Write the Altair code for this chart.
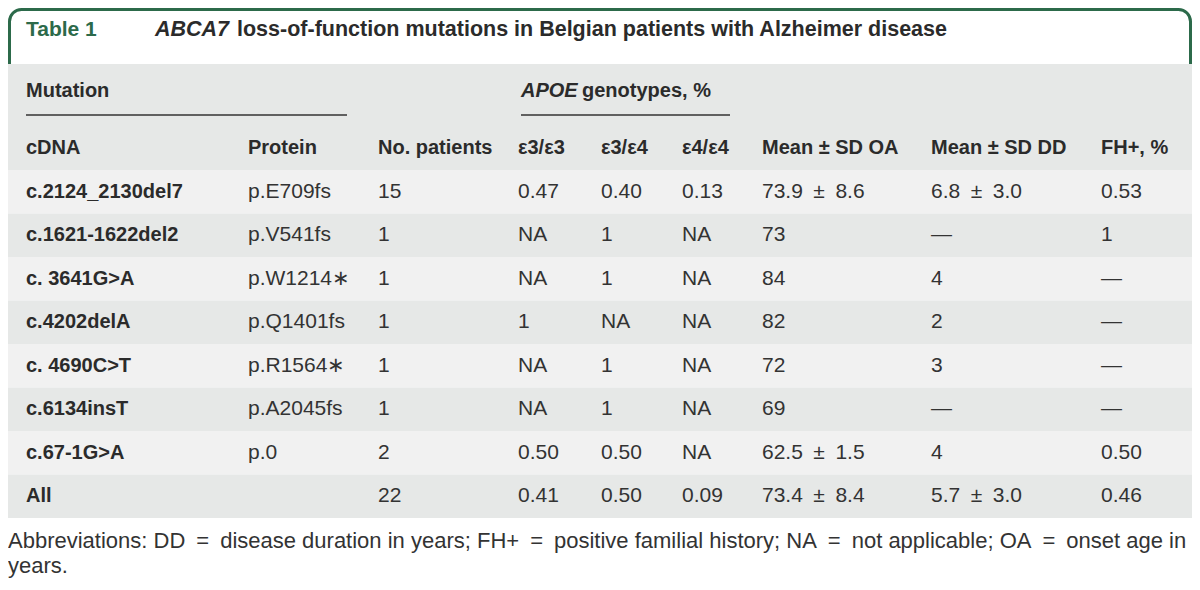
import altair as alt
import pandas as pd

title_label = "Table 1"
title_italic = "ABCA7"
title_rest = "loss-of-function mutations in Belgian patients with Alzheimer disease"

group_header_1 = "Mutation"
group_header_2_italic = "APOE"
group_header_2_rest = "genotypes, %"

col_headers = ["cDNA", "Protein", "No. patients", "ε3/ε3", "ε3/ε4", "ε4/ε4",
               "Mean ± SD OA", "Mean ± SD DD", "FH+, %"]

cdna = ["c.2124_2130del7", "c.1621-1622del2", "c. 3641G>A", "c.4202delA",
        "c. 4690C>T", "c.6134insT", "c.67-1G>A", "All"]
protein = ["p.E709fs", "p.V541fs", "p.W1214∗", "p.Q1401fs", "p.R1564∗",
           "p.A2045fs", "p.0", ""]
n_patients = ["15", "1", "1", "1", "1", "1", "2", "22"]
apoe_e3e3 = ["0.47", "NA", "NA", "1", "NA", "NA", "0.50", "0.41"]
apoe_e3e4 = ["0.40", "1", "1", "NA", "1", "1", "0.50", "0.50"]
apoe_e4e4 = ["0.13", "NA", "NA", "NA", "NA", "NA", "NA", "0.09"]
mean_sd_oa = ["73.9 ± 8.6", "73", "84", "82", "72", "69", "62.5 ± 1.5", "73.4 ± 8.4"]
mean_sd_dd = ["6.8 ± 3.0", "—", "4", "2", "3", "—", "4", "5.7 ± 3.0"]
fh_pos = ["0.53", "1", "—", "—", "—", "—", "0.50", "0.46"]

footer_lines = [
    "Abbreviations: DD = disease duration in years; FH+ = positive familial history; NA = not applicable; OA = onset age in",
    "years.",
]

# ---------------- layout (page pixel positions) ----------------
COL_X = [26, 248, 378, 518, 601, 682, 762, 931, 1101]
ROW_EDGES = [170, 213.5, 257, 300.5, 344, 387.5, 431, 474.5, 518]
HEADER_TOP = 64
TITLE_Y = 30
GROUP_Y = 91
COLHEAD_Y = 148
RULE_Y = 115
FOOTER_Y = [541, 566]

GREEN = "#2c6a4a"
DARK = "#2b2b2b"
TEXT = "#333333"
BAND_LIGHT = "#f1f1f1"
BAND_DARK = "#e6e8e7"
FONT = "Liberation Sans"
EN = "\u2002"  # wider typographic space, as in the original typesetting


def wide(s, sym):
    return s.replace(f" {sym} ", f"{EN}{sym}{EN}")


columns = [cdna, protein, n_patients, apoe_e3e3, apoe_e3e4, apoe_e4e4,
           [wide(v, "±") for v in mean_sd_oa], [wide(v, "±") for v in mean_sd_dd],
           fh_pos]

xs = alt.Scale(domain=[8, 1192], range=[0, 1184], nice=False, zero=False)
ys = alt.Scale(domain=[8, 582], reverse=True, nice=False, zero=False)


def X(f="x"):
    return alt.X(f"{f}:Q", scale=xs, axis=None)


def Y(f="y"):
    return alt.Y(f"{f}:Q", scale=ys, axis=None)


# ---------------- background shapes ----------------
title_box = pd.DataFrame({"x": [9.5], "x2": [1190.5], "y": [9.5], "y2": [90]})
box = alt.Chart(title_box).mark_rect(
    fill="white", stroke=GREEN, strokeWidth=3, cornerRadius=12
).encode(x=X(), x2="x2:Q", y=Y(), y2="y2:Q")

header_bg = pd.DataFrame({"x": [8], "x2": [1192], "y": [HEADER_TOP], "y2": [ROW_EDGES[0]]})
hdr = alt.Chart(header_bg).mark_rect(fill=BAND_DARK).encode(
    x=X(), x2="x2:Q", y=Y(), y2="y2:Q")

bands = pd.DataFrame({
    "x": [8] * 8, "x2": [1192] * 8,
    "y": ROW_EDGES[:-1], "y2": ROW_EDGES[1:],
    "shade": ["light" if i % 2 == 0 else "dark" for i in range(8)],
})
band = alt.Chart(bands).mark_rect().encode(
    x=X(), x2="x2:Q", y=Y(), y2="y2:Q",
    color=alt.Color("shade:N", scale=alt.Scale(domain=["light", "dark"],
                                               range=[BAND_LIGHT, BAND_DARK]),
                    legend=None))

rules_df = pd.DataFrame({"x": [26, 521], "x2": [347, 730], "y": [RULE_Y, RULE_Y]})
rules = alt.Chart(rules_df).mark_rule(color="#333333", strokeWidth=1.5).encode(
    x=X(), x2="x2:Q", y=Y())

# ---------------- text ----------------
cells = []
cells.append(dict(x=26, y=TITLE_Y, t=title_label, s="title"))
cells.append(dict(x=155, y=TITLE_Y, t=title_italic, s="title_it"))
cells.append(dict(x=237, y=TITLE_Y, t=title_rest, s="title_b"))
cells.append(dict(x=26, y=GROUP_Y, t=group_header_1, s="bold"))
cells.append(dict(x=521, y=GROUP_Y, t=group_header_2_italic, s="bold_it"))
cells.append(dict(x=582, y=GROUP_Y, t=group_header_2_rest, s="bold"))
for cx, h in zip(COL_X, col_headers):
    cells.append(dict(x=cx, y=COLHEAD_Y, t=h, s="bold"))
for r in range(8):
    yc = (ROW_EDGES[r] + ROW_EDGES[r + 1]) / 2
    for c, (cx, col) in enumerate(zip(COL_X, columns)):
        cells.append(dict(x=cx, y=yc, t=col[r], s="bold" if c == 0 else "reg"))
for fy, line in zip(FOOTER_Y, footer_lines):
    cells.append(dict(x=8, y=fy, t=wide(line, "="), s="foot"))

cells_df = pd.DataFrame(cells)

styles = {
    "title": dict(fontSize=21, fontWeight="bold", color=GREEN),
    "title_it": dict(fontSize=21.5, fontWeight="bold", fontStyle="italic", color=DARK),
    "title_b": dict(fontSize=21.5, fontWeight="bold", color=DARK),
    "bold": dict(fontSize=20, fontWeight="bold", color=DARK),
    "bold_it": dict(fontSize=20, fontWeight="bold", fontStyle="italic", color=DARK),
    "reg": dict(fontSize=21, color=TEXT),
    "foot": dict(fontSize=22, color=TEXT),
}

text_layers = []
for s, kw in styles.items():
    text_layers.append(
        alt.Chart(cells_df).transform_filter(alt.datum.s == s).mark_text(
            align="left", baseline="middle", font=FONT, **kw
        ).encode(x=X(), y=Y(), text="t:N")
    )

chart = alt.layer(box, hdr, band, rules, *text_layers).properties(
    width=1184, height=574, padding=0, background="white"
).configure_view(stroke=None)

chart.save("out.html", embed_options={"renderer": "svg", "actions": False})
